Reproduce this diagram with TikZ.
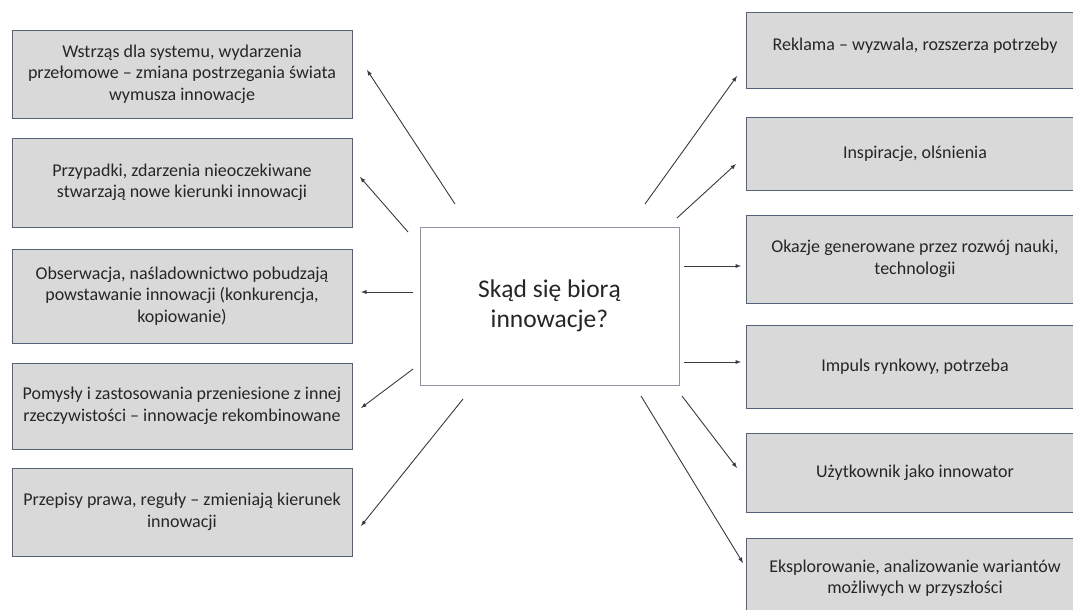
\documentclass[tikz,border=0pt]{standalone}
\usepackage{fontspec}
\setmainfont{Carlito}
\usepackage{xcolor}
\usetikzlibrary{arrows}
\definecolor{boxgray}{HTML}{D9D9D9}
\definecolor{boxline}{HTML}{56627A}
\definecolor{midline}{HTML}{8E96A6}
\definecolor{txtgray}{HTML}{262626}
\definecolor{arrgray}{HTML}{3A3A3A}

\begin{document}
\begin{tikzpicture}[x=1pt, y=-1pt,
    srcbox/.style={draw=boxline, fill=boxgray, line width=0.9pt, align=center,
      text=txtgray, inner sep=0pt, font=\fontsize{18}{21.5}\selectfont},
    leftbox/.style={srcbox, minimum width=340pt},
    rightbox/.style={srcbox, minimum width=338pt},
    hub/.style={draw=midline, fill=white, line width=0.9pt, align=center,
      text=txtgray, minimum width=259pt, minimum height=158pt,
      font=\fontsize{25.5}{30}\selectfont},
    pointer/.style={-latex, draw=arrgray, line width=0.9pt}]
  \useasboundingbox (0,0) rectangle (1073,610);

  % centre
  \node[hub] (zrodlo) at (549.5,306) {Skąd się biorą\\innowacje?};

  % left column
  \node[leftbox, minimum height=88pt] (wstrzas) at (182,74)
    {Wstrząs dla systemu, wydarzenia\\przełomowe -- zmiana postrzegania świata\\wymusza innowacje};
  \node[leftbox, minimum height=89pt] (przypadki) at (182,182.5)
    {Przypadki, zdarzenia nieoczekiwane\\stwarzają nowe kierunki innowacji};
  \node[leftbox, minimum height=94pt] (obserwacja) at (182,296)
    {Obserwacja, naśladownictwo pobudzają\\powstawanie innowacji (konkurencja,\\kopiowanie)};
  \node[leftbox, minimum height=86pt] (pomysly) at (182,406)
    {Pomysły i zastosowania przeniesione z innej\\rzeczywistości -- innowacje rekombinowane};
  \node[leftbox, minimum height=88pt] (przepisy) at (182,512)
    {Przepisy prawa, reguły -- zmieniają kierunek\\innowacji};

  % right column
  \node[rightbox, minimum height=76pt] (reklama) at (915,50)
    {\raisebox{12pt}{Reklama -- wyzwala, rozszerza potrzeby}};
  \node[rightbox, minimum height=73pt] (inspiracje) at (915,153.5)
    {Inspiracje, olśnienia};
  \node[rightbox, minimum height=88pt] (okazje) at (915,259)
    {Okazje generowane przez rozwój nauki,\\technologii};
  \node[rightbox, minimum height=83pt] (impuls) at (915,366.5)
    {Impuls rynkowy, potrzeba};
  \node[rightbox, minimum height=79pt] (uzytkownik) at (915,472.5)
    {Użytkownik jako innowator};
  \node[rightbox, minimum height=80pt] (eksplorowanie) at (915,578)
    {Eksplorowanie, analizowanie wariantów\\możliwych w przyszłości};

  % arrow ends
  \coordinate (s1) at (455,204);  \coordinate (e1) at (367,70);
  \coordinate (s2) at (408,232);  \coordinate (e2) at (360,177);
  \coordinate (s3) at (413,292);  \coordinate (e3) at (361,292);
  \coordinate (s4) at (413,369);  \coordinate (e4) at (361,408);
  \coordinate (s5) at (463,399);  \coordinate (e5) at (361,526);
  \coordinate (s6) at (645,204);  \coordinate (e6) at (737,76);
  \coordinate (s7) at (677,218);  \coordinate (e7) at (736,164);
  \coordinate (s8) at (684,266);  \coordinate (e8) at (741,266);
  \coordinate (s9) at (684,362);  \coordinate (e9) at (741,362);
  \coordinate (s10) at (682,396); \coordinate (e10) at (737,468);
  \coordinate (s11) at (641,396); \coordinate (e11) at (743,563);

  \foreach \n in {1,...,11}
    \draw[pointer] (s\n) -- (e\n);
\end{tikzpicture}
\end{document}
